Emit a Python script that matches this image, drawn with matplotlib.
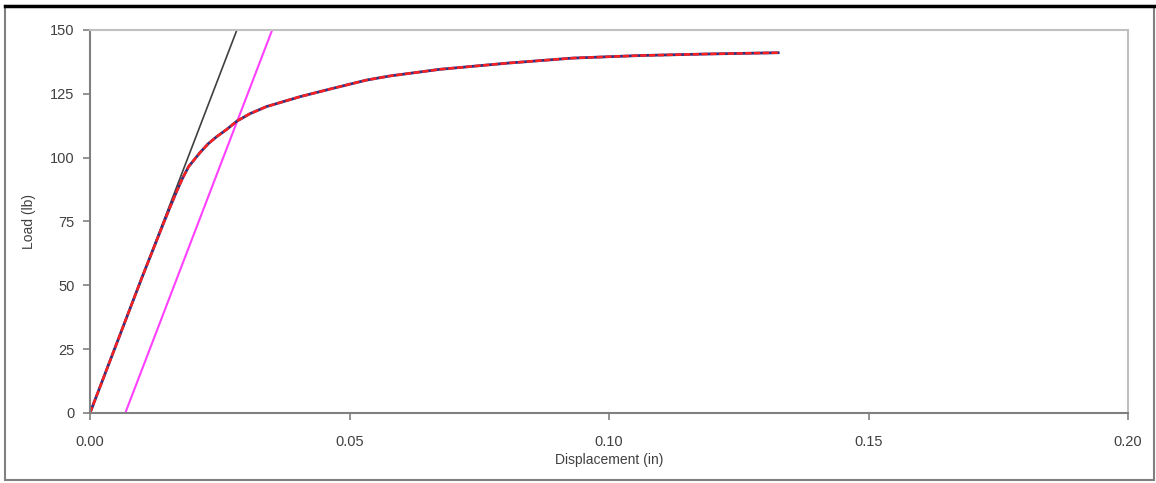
import matplotlib
matplotlib.use("Agg")
import matplotlib.pyplot as plt
from matplotlib.patches import Rectangle
from matplotlib.lines import Line2D

# measured load-displacement curve
disp = [0.0, 0.005, 0.010, 0.0141, 0.0154, 0.0167, 0.0178, 0.0190,
        0.0212, 0.0228, 0.0244, 0.0263, 0.0283, 0.0308, 0.0340,
        0.0405, 0.0469, 0.0533, 0.0578, 0.0674, 0.0803, 0.0930, 0.1060,
        0.1188, 0.1326]
load = [0.0, 26.5, 53.0, 74.0, 80.5, 86.8, 91.8, 96.5,
        102.0, 105.5, 108.2, 111.0, 114.3, 117.2, 120.0,
        123.9, 127.2, 130.4, 132.0, 134.6, 137.0, 139.0, 140.0,
        140.6, 141.1]

# elastic line and offset line
elastic_x = [0.0, 0.0283]
elastic_y = [0.0, 150.0]
offset_x = [0.0068, 0.0351]
offset_y = [0.0, 150.0]

xticks = [0.0, 0.05, 0.10, 0.15, 0.20]
xticklabels = ["0.00", "0.05", "0.10", "0.15", "0.20"]
yticks = [0, 25, 50, 75, 100, 125, 150]

plt.rcParams['font.family'] = ['Liberation Sans', 'DejaVu Sans']

fig = plt.figure(figsize=(11.56, 4.83), dpi=100)
ax = fig.add_axes([90 / 1156, 70 / 483, 1038 / 1156, 383 / 483])

ax.plot(elastic_x, elastic_y, color="#404040", linewidth=1.2)
ax.plot(offset_x, offset_y, color="#ff40ff", linewidth=1.5)
ax.plot(disp, load, color="#303080", linewidth=2.0, solid_joinstyle="round")
ax.plot(disp, load, color="#ff2020", linewidth=1.8, dashes=(2.5, 1),
        dash_joinstyle="round")

ax.set_xlim(0, 0.20)
ax.set_ylim(0, 150)
ax.set_xticks(xticks)
ax.set_xticklabels(xticklabels)
ax.set_yticks(yticks)
ax.tick_params(direction="out", length=5, width=1.2, color="#808080",
               labelsize=10.5, labelcolor="#404040", pad=6)
ax.tick_params(axis="x", pad=11)

for side in ["left", "bottom"]:
    ax.spines[side].set_color("#808080")
    ax.spines[side].set_linewidth(1.5)
for side in ["top", "right"]:
    ax.spines[side].set_color("#c0c0c0")
    ax.spines[side].set_linewidth(1.5)

ax.set_xlabel("Displacement (in)", fontsize=10, color="#404040", labelpad=3)
ax.set_ylabel("Load (lb)", fontsize=10, color="#404040", labelpad=10)

# chart frame
fig.patches.append(Rectangle((5 / 1156, 3 / 483), 1149 / 1156, 474 / 483,
                             transform=fig.transFigure, fill=False,
                             edgecolor="#808080", linewidth=1.5))
fig.lines.append(Line2D([5 / 1156, 1154 / 1156], [477 / 483, 477 / 483],
                        transform=fig.transFigure, color="black", linewidth=2.5))

fig.savefig("out.png", dpi=100)
